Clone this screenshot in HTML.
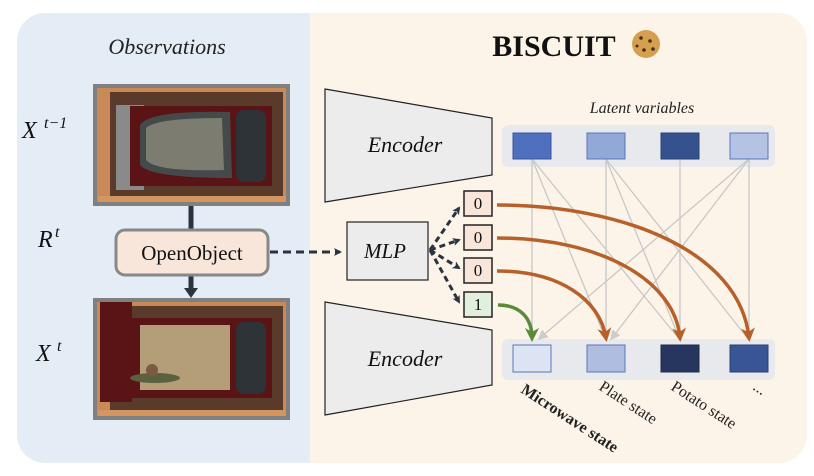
<!DOCTYPE html>
<html><head><meta charset="utf-8"><style>
html,body{margin:0;padding:0;background:#fff;}
svg{display:block;}
</style></head><body>
<svg width="814" height="476" viewBox="0 0 814 476" xmlns="http://www.w3.org/2000/svg" font-family="Liberation Serif, serif">
<defs>
<clipPath id="pc"><rect x="17" y="13" width="790" height="450" rx="28"/></clipPath>
<marker id="ad" markerWidth="8" markerHeight="8" refX="6" refY="4" orient="auto" markerUnits="userSpaceOnUse"><path d="M0,0 L8,4 L0,8 L2,4z" fill="#2b3340"/></marker>
<marker id="ao" markerWidth="14" markerHeight="14" refX="10" refY="7" orient="auto" markerUnits="userSpaceOnUse"><path d="M0,0 L14,7 L0,14 L4,7z" fill="#b8602a"/></marker>
<marker id="ag" markerWidth="14" markerHeight="14" refX="10" refY="7" orient="auto" markerUnits="userSpaceOnUse"><path d="M0,0 L14,7 L0,14 L4,7z" fill="#5a8a3a"/></marker>
<marker id="ak" markerWidth="10" markerHeight="10" refX="7" refY="5" orient="auto" markerUnits="userSpaceOnUse"><path d="M0,0 L10,5 L0,10z" fill="#ccc"/></marker>
</defs>
<g clip-path="url(#pc)">
<rect x="17" y="13" width="293" height="450" fill="#e4edf6"/>
<rect x="310" y="13" width="497" height="450" fill="#fcf4e8"/>
</g>
<text x="167" y="54" font-size="22" font-style="italic" text-anchor="middle" fill="#222">Observations</text>
<text x="22" y="138" font-size="24" font-style="italic" fill="#111">X</text><text x="44" y="128" font-size="16" font-style="italic" fill="#111">t−1</text>
<text x="38" y="247" font-size="24" font-style="italic" fill="#111">R</text><text x="55" y="237" font-size="16" font-style="italic" fill="#111">t</text>
<text x="36" y="361" font-size="24" font-style="italic" fill="#111">X</text><text x="57" y="351" font-size="16" font-style="italic" fill="#111">t</text>
<!-- top image -->
<rect x="93" y="84" width="197" height="122" fill="#808080"/>
<rect x="97" y="88" width="189" height="114" fill="#c98a58"/>
<rect x="110" y="92" width="173" height="106" fill="#5a3a2a"/>
<rect x="116" y="105" width="28" height="85" fill="#8a8a8a"/>
<rect x="130" y="106" width="142" height="80" fill="#5a1416"/>
<path d="M140,125 Q150,110 230,112 L232,178 Q150,178 140,165z" fill="#444a4a"/>
<path d="M146,128 Q156,118 222,118 L224,170 Q156,172 146,160z" fill="#7c7c70"/>
<rect x="236" y="110" width="30" height="72" rx="8" fill="#2e3338"/>
<rect x="98" y="196" width="188" height="6" fill="#d49560"/>
<!-- bottom image -->
<rect x="93" y="298" width="197" height="122" fill="#808080"/>
<rect x="97" y="302" width="189" height="114" fill="#c98a58"/>
<rect x="110" y="306" width="173" height="106" fill="#5a3a2a"/>
<rect x="100" y="302" width="32" height="100" fill="#5a1416"/>
<rect x="132" y="318" width="140" height="80" fill="#5a1416"/>
<rect x="140" y="325" width="90" height="65" fill="#b49e78"/>
<ellipse cx="155" cy="378" rx="25" ry="5" fill="#5a6040"/>
<circle cx="152" cy="370" r="6" fill="#7a5a40"/>
<rect x="236" y="322" width="30" height="72" rx="8" fill="#2e3338"/>
<rect x="98" y="410" width="188" height="6" fill="#d49560"/>
<!-- arrows left -->
<line x1="191" y1="206" x2="191" y2="230" stroke="#2b3340" stroke-width="5"/>
<line x1="191" y1="275" x2="191" y2="290" stroke="#2b3340" stroke-width="5"/>
<path d="M184,288 L198,288 L191,298z" fill="#2b3340"/>
<rect x="116" y="230" width="152" height="45" rx="9" fill="#f8e6da" stroke="#888" stroke-width="3"/>
<text x="192" y="260" font-size="21" text-anchor="middle" fill="#111">OpenObject</text>
<line x1="270" y1="252" x2="340" y2="252" stroke="#2b3340" stroke-width="3" stroke-dasharray="8,5" marker-end="url(#ad)"/>
<!-- encoders -->
<path d="M325,89 L492,118 L492,175 L325,202z" fill="#ececec" stroke="#222" stroke-width="1.2"/>
<text x="405" y="152" font-size="22" font-style="italic" text-anchor="middle" fill="#111">Encoder</text>
<path d="M325,302 L492,330 L492,385 L325,415z" fill="#ececec" stroke="#222" stroke-width="1.2"/>
<text x="405" y="366" font-size="22" font-style="italic" text-anchor="middle" fill="#111">Encoder</text>
<rect x="347" y="222" width="81" height="58" fill="#ececec" stroke="#222" stroke-width="1.2"/>
<text x="385" y="258" font-size="21" font-style="italic" text-anchor="middle" fill="#111">MLP</text>
<g stroke="#2b3340" stroke-width="3" stroke-dasharray="6,4" fill="none">
<line x1="430" y1="250" x2="459" y2="208" marker-end="url(#ad)"/>
<line x1="430" y1="250" x2="459" y2="240" marker-end="url(#ad)"/>
<line x1="430" y1="250" x2="459" y2="268" marker-end="url(#ad)"/>
<line x1="430" y1="250" x2="459" y2="302" marker-end="url(#ad)"/>
</g>
<g font-size="17" text-anchor="middle" fill="#111">
<rect x="464" y="191" width="28" height="25" fill="#f8e6da" stroke="#222" stroke-width="1.5"/><text x="478" y="209">0</text>
<rect x="464" y="225" width="28" height="25" fill="#f8e6da" stroke="#222" stroke-width="1.5"/><text x="478" y="243">0</text>
<rect x="464" y="258" width="28" height="25" fill="#f8e6da" stroke="#222" stroke-width="1.5"/><text x="478" y="276">0</text>
<rect x="464" y="292" width="28" height="25" fill="#e2efdc" stroke="#222" stroke-width="1.5"/><text x="478" y="310">1</text>
</g>
<!-- latent -->
<text x="642" y="113" font-size="16" font-style="italic" text-anchor="middle" fill="#222">Latent variables</text>
<rect x="502" y="125" width="273" height="42" rx="6" fill="#e8e9ec"/>
<rect x="502" y="339" width="273" height="41" rx="6" fill="#e8e9ec"/>
<g stroke="#c8c8c8" stroke-width="1.3" fill="none">
<line x1="532" y1="159" x2="532" y2="340"/>
<line x1="532" y1="159" x2="680" y2="340"/>
<line x1="532" y1="159" x2="606" y2="340"/>
<line x1="606" y1="159" x2="606" y2="340"/>
<line x1="606" y1="159" x2="680" y2="340"/>
<line x1="606" y1="159" x2="749" y2="340"/>
<line x1="680" y1="159" x2="680" y2="340"/>
<line x1="749" y1="159" x2="749" y2="340"/>
<line x1="749" y1="159" x2="540" y2="338" marker-end="url(#ak)"/>
<line x1="749" y1="159" x2="612" y2="338" marker-end="url(#ak)"/>
</g>
<rect x="513" y="133" width="38" height="26" fill="#4f6fbf" stroke="#3a55a0"/>
<rect x="587" y="133" width="38" height="26" fill="#92a8d6" stroke="#5a75b8"/>
<rect x="661" y="133" width="38" height="26" fill="#35528f" stroke="#2a4070"/>
<rect x="730" y="133" width="38" height="26" fill="#b4c3e3" stroke="#5a75b8"/>
<rect x="513" y="345" width="38" height="27" fill="#dce3f3" stroke="#5a75b8"/>
<rect x="587" y="345" width="38" height="27" fill="#aebde0" stroke="#5a75b8"/>
<rect x="661" y="345" width="38" height="27" fill="#26365f" stroke="#1e2a4a"/>
<rect x="730" y="345" width="38" height="27" fill="#3a5595" stroke="#2a4070"/>
<g fill="none" stroke-width="3.5">
<path d="M497,205 C620,205 740,250 749,338" stroke="#b8602a" marker-end="url(#ao)"/>
<path d="M497,238 C600,238 675,280 680,338" stroke="#b8602a" marker-end="url(#ao)"/>
<path d="M497,271 C560,271 600,300 606,338" stroke="#b8602a" marker-end="url(#ao)"/>
<path d="M498,305 C520,305 532,318 532,338" stroke="#5a8a3a" marker-end="url(#ag)"/>
</g>
<g font-size="16" fill="#222">
<text transform="translate(520,392) rotate(33)" font-weight="bold">Microwave state</text>
<text transform="translate(598,389) rotate(33)">Plate state</text>
<text transform="translate(670,389) rotate(33)">Potato state</text>
<text transform="translate(752,389) rotate(33)">...</text>
</g>
<text x="554" y="56" font-size="30" font-weight="bold" text-anchor="middle" fill="#111">BISCUIT</text>
<circle cx="646" cy="44" r="14" fill="#d4a050"/>
<g fill="#4a2a18"><circle cx="641" cy="38" r="1.8"/><circle cx="650" cy="41" r="1.8"/><circle cx="644" cy="50" r="1.8"/><circle cx="653" cy="49" r="1.8"/><circle cx="637" cy="46" r="1.5"/></g>
</svg>
</body></html>
